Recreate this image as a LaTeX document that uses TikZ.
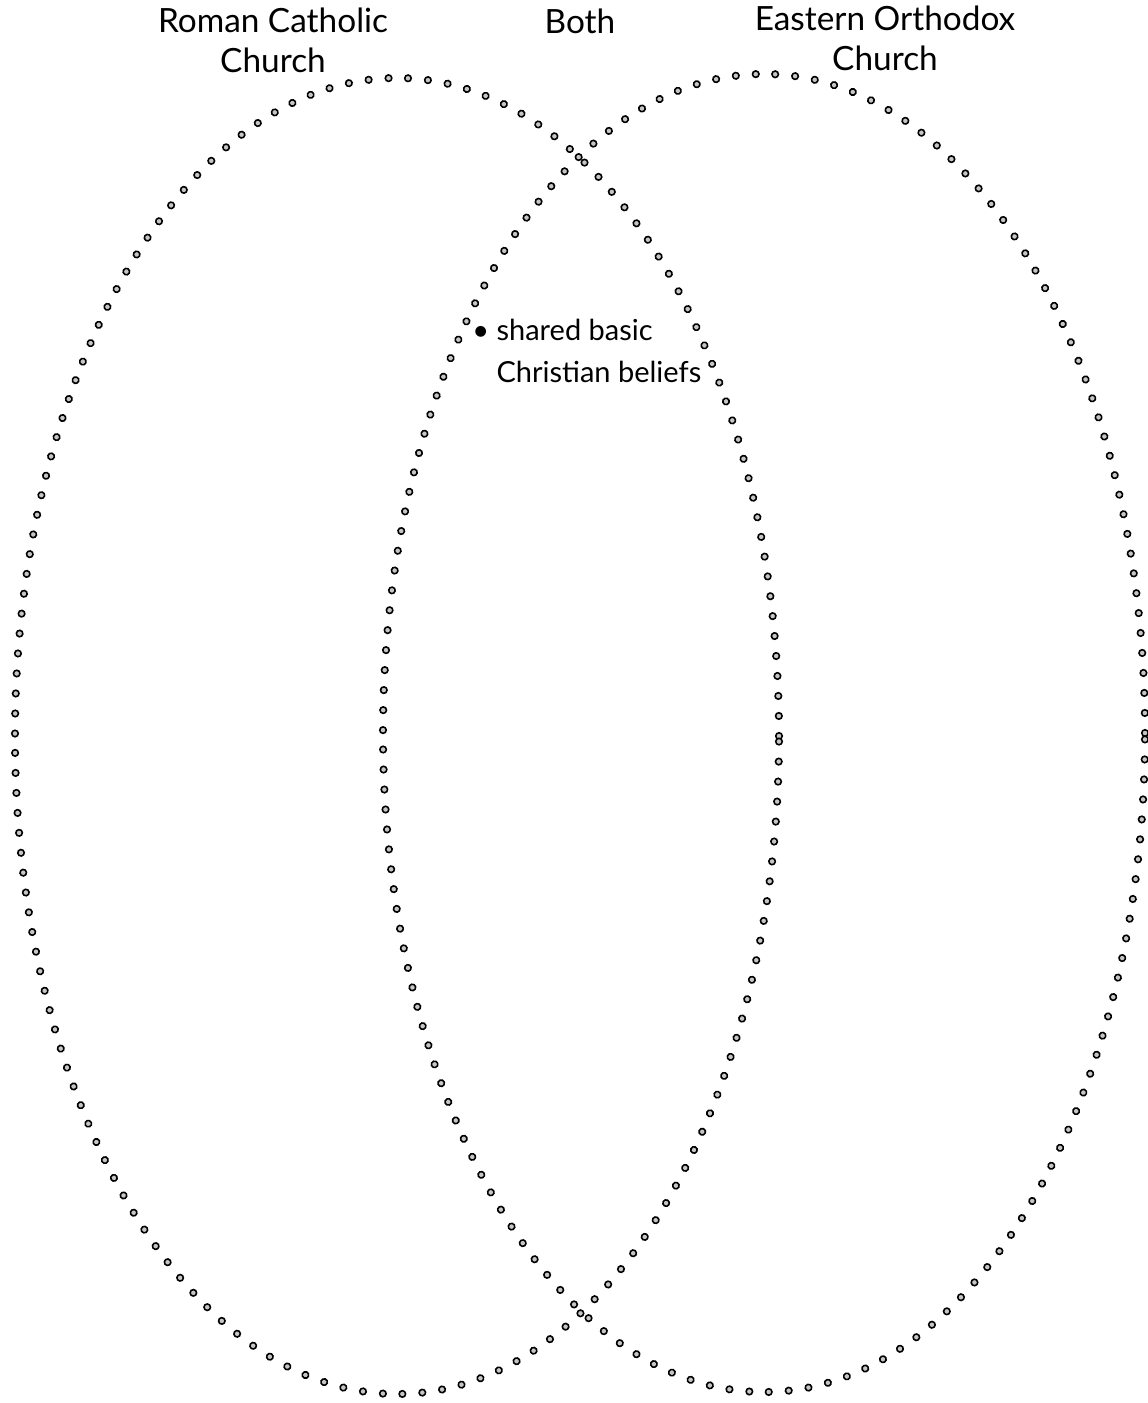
\documentclass[tikz,border=0pt]{standalone}
\usepackage{fontspec}
\setmainfont{Lato}
\usetikzlibrary{decorations.markings}

\begin{document}
\begin{tikzpicture}[
  x=0.02cm, y=-0.02cm,
  heading/.style={font=\fontsize{19}{22.2}\selectfont, align=center, inner sep=0pt},
  note/.style={font=\fontsize{16.5}{23.8}\selectfont, align=left, inner sep=0pt},
  dotring/.style={decorate, decoration={markings,
      mark=between positions 0 and 1 step 0.4cm with
        {\draw[line width=0.9pt, fill=gray!45] (0,0) circle (0.065cm);}}}
]
\useasboundingbox (0,0) rectangle (1147,1403);
% the two sets
\path[dotring] (397,736) ellipse [x radius=382, y radius=-658];
\path[dotring] (764,733) ellipse [x radius=381, y radius=-659];
% headings
\node[heading, anchor=base] (rc) at (273,72) {Roman Catholic\\Church};
\node[heading, anchor=base] (both) at (580,33) {Both};
\node[heading, anchor=base] (eo) at (885,70) {Eastern Orthodox\\Church};
% shared item
\node[note, anchor=base west] (shared) at (472,382)
  {\textbullet~shared basic\\\hphantom{\textbullet~}Christian beliefs};
\end{tikzpicture}
\end{document}
